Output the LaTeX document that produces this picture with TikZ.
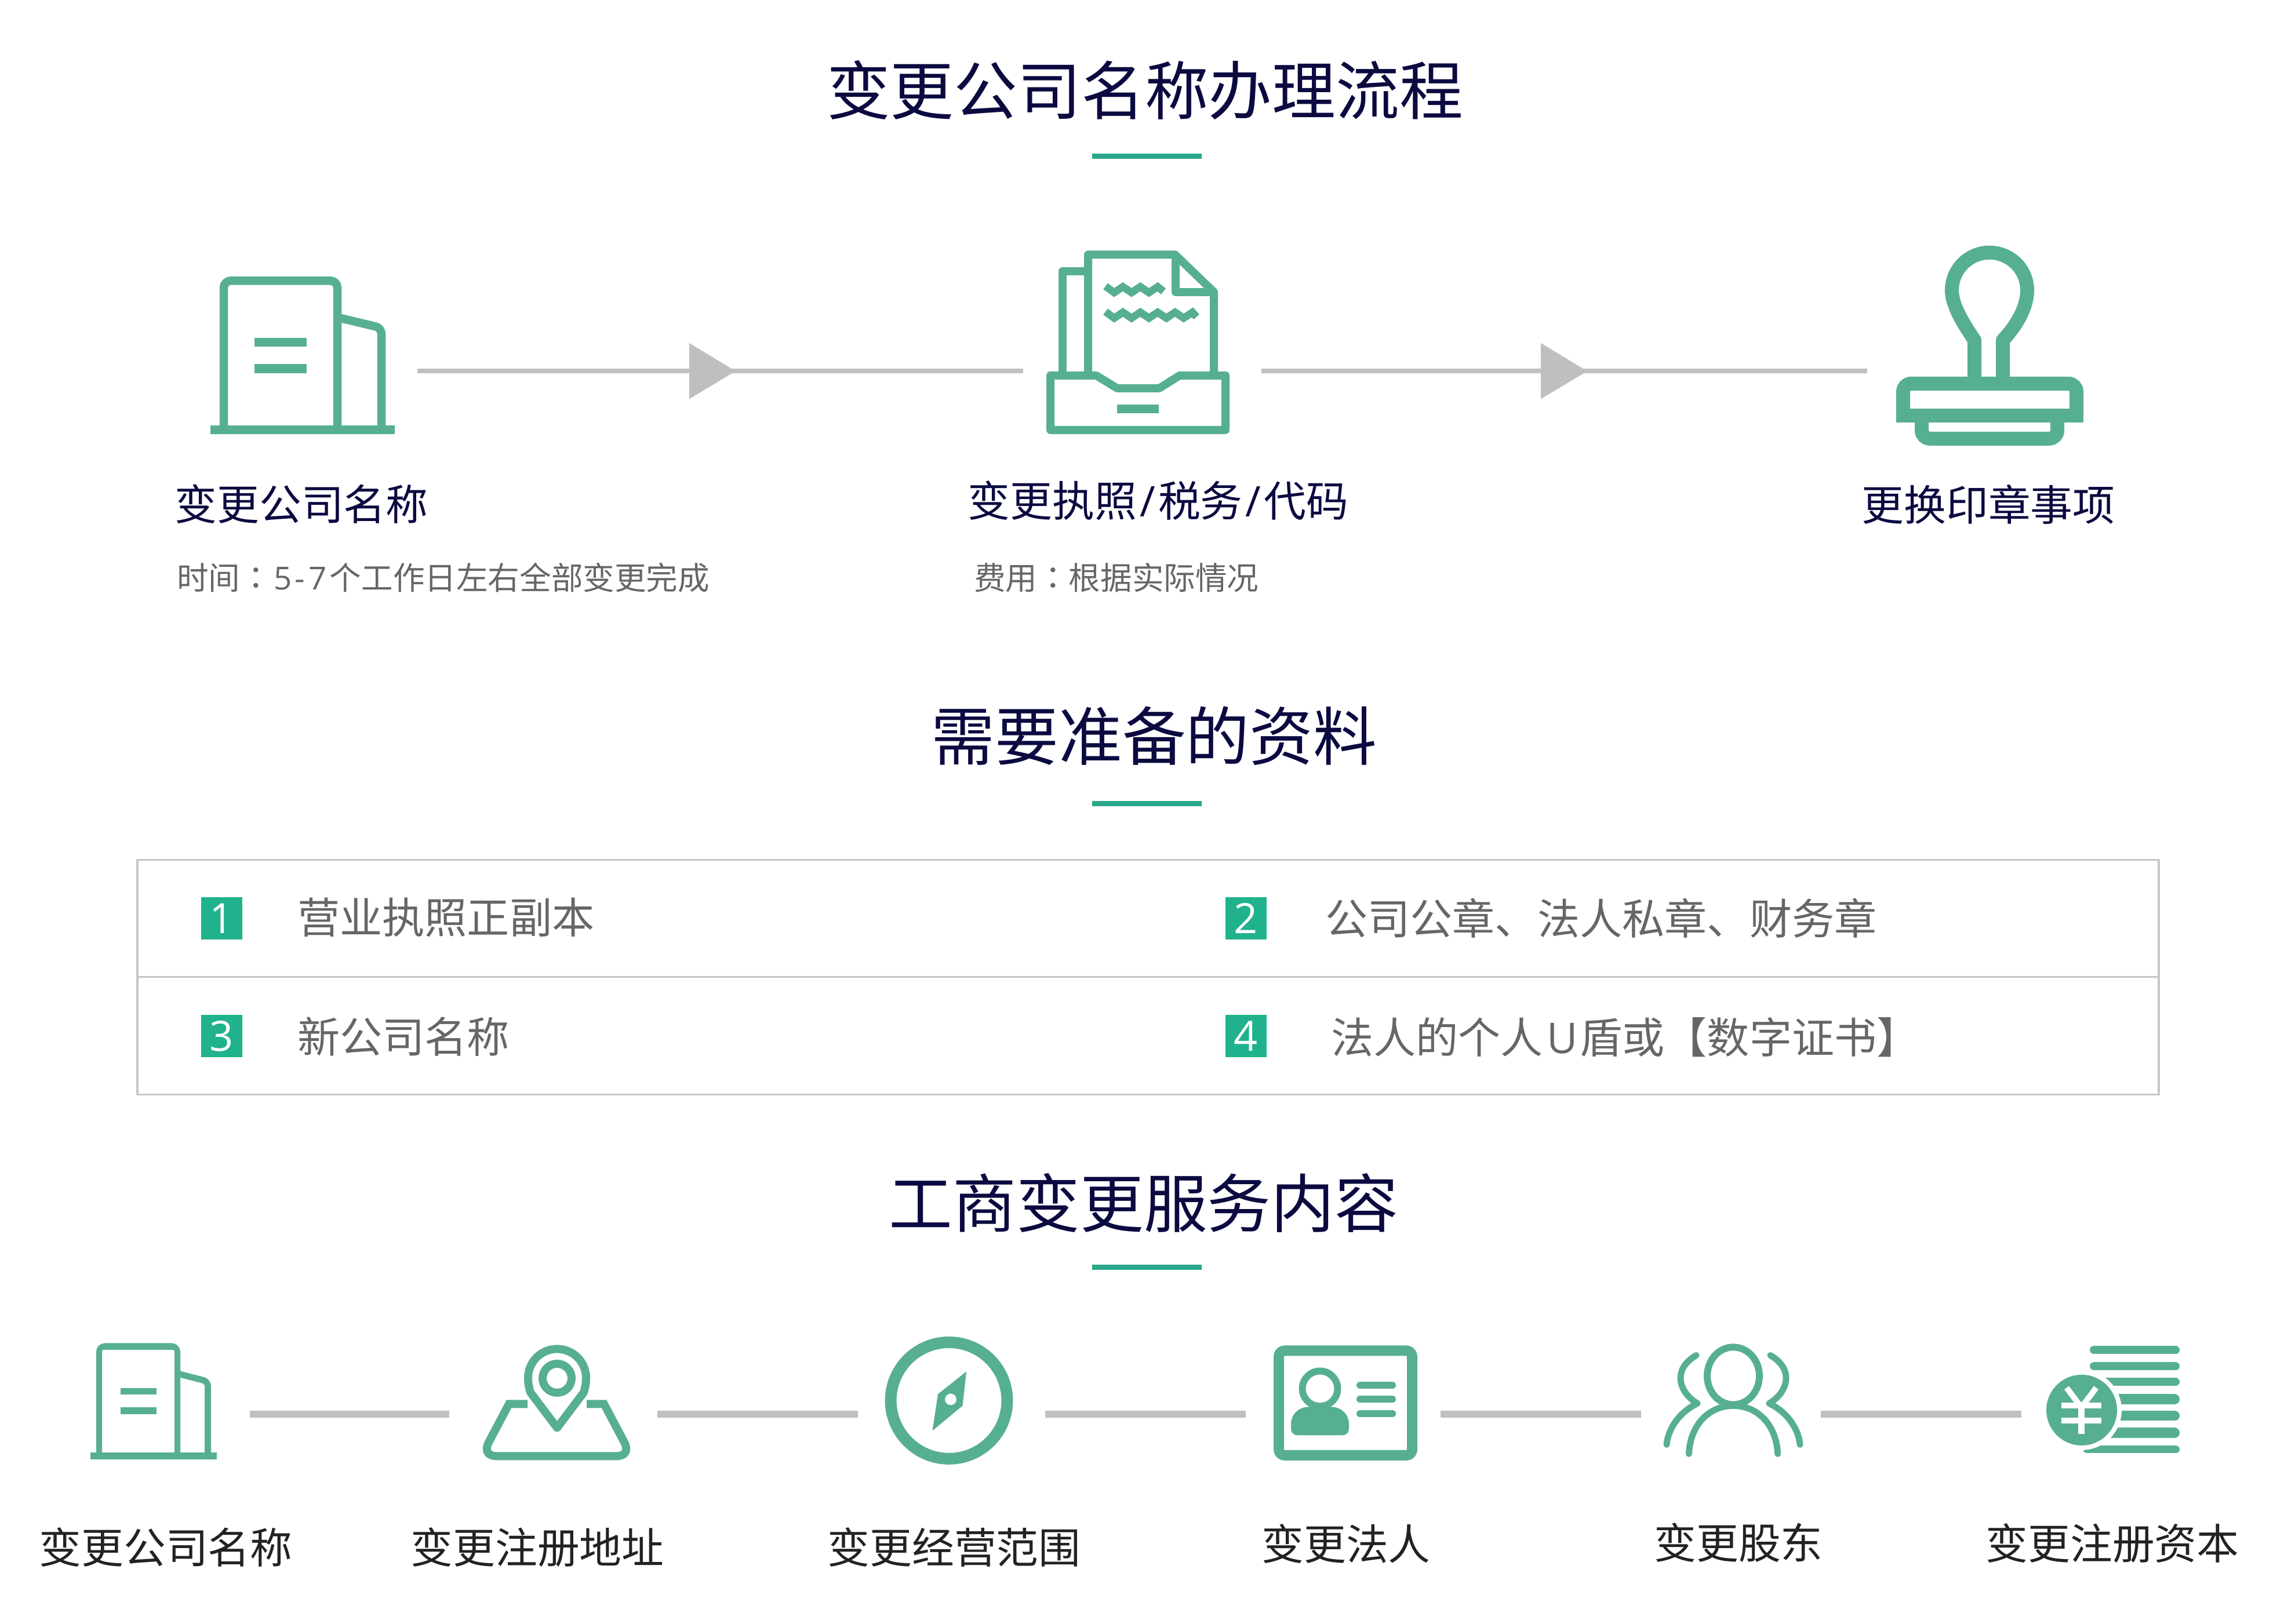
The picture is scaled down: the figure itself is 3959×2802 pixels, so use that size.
\documentclass[tikz,border=0pt]{standalone}
\usepackage{fontspec}
\setmainfont{Noto Sans CJK SC}
\newfontfamily\lat{Open Sans}
\newfontfamily\tcf{Noto Sans CJK TC}
\definecolor{navy}{HTML}{0B0A40}
\definecolor{igreen}{HTML}{57AF91}
\definecolor{lgreen}{HTML}{2AA88A}
\definecolor{bgreen}{HTML}{20B28C}
\definecolor{arrowgrey}{HTML}{BFBFBF}
\definecolor{boxgrey}{HTML}{C6C6C6}
\definecolor{subgrey}{HTML}{666666}
\definecolor{lab}{HTML}{222222}
\tikzset{
  txt/.style={inner sep=0pt,outer sep=0pt,anchor=base},
  titletxt/.style={txt,text=navy,font=\fontsize{27.45}{30}\selectfont},
  steptxt/.style={txt,text=navy,font=\fontsize{18.2}{22}\selectfont},
  subtxt/.style={txt,anchor=base west,text=subgrey,font=\fontsize{13.65}{16}\selectfont},
  listtxt/.style={txt,anchor=base west,text=subgrey,font=\fontsize{18.3}{22}\selectfont},
  labtxt/.style={txt,text=lab,font=\fontsize{18.2}{22}\selectfont},
  badge/.style={inner sep=0pt,fill=bgreen,text=white,minimum width=17.75pt,minimum height=18.25pt,font=\lat\fontsize{18}{20}\selectfont},
  ic/.style={draw=igreen,line width=#1*0.25pt,line join=round},
  icm/.style={draw=igreen,line width=#1*0.25pt,line join=miter},
  uline/.style={draw=lgreen,line width=2.1pt},
  conn/.style={draw=arrowgrey,line width=2pt},
  conn2/.style={draw=arrowgrey,line width=2.9pt},
  boxline/.style={draw=boxgrey,line width=0.8pt},
}
\begin{document}
\begin{tikzpicture}[x=0.25pt,y=-0.25pt]
\useasboundingbox (0,0) rectangle (3959,2802);
\begin{scope}[yshift=-0.6pt]
% titles
\node[titletxt] (t1) at (1975,195.5) {变更公司名称办理流程};
\node[titletxt] (t2) at (1991,1309) {需要准备的资料};
\node[titletxt] (t3) at (1973,2115.5) {工商变更服务内容};
\coordinate (u1a) at (1884,267); \coordinate (u1b) at (2073,267);
\coordinate (u2a) at (1884,1384); \coordinate (u2b) at (2073,1384);
\coordinate (u3a) at (1884,2184); \coordinate (u3b) at (2073,2184);
\draw[uline] (u1a) -- (u1b);
\draw[uline] (u2a) -- (u2b);
\draw[uline] (u3a) -- (u3b);
% top connectors
\coordinate (c1a) at (720,638); \coordinate (c1b) at (1765,638);
\coordinate (c2a) at (2176,638); \coordinate (c2b) at (3221,638);
\draw[conn] (c1a) -- (c1b);
\draw[conn] (c2a) -- (c2b);
\fill[arrowgrey] (1189,589.5) -- (1269,638) -- (1189,686) -- cycle;
\fill[arrowgrey] (2658,589.5) -- (2738,638) -- (2658,686) -- cycle;
% top row icons
\begin{scope}[yshift=0.4pt]
% icon 1 large building
\draw[ic=14.5,rounded corners=3pt] (386,735) -- (386,483.5) -- (582,483.5) -- (582,735);
\draw[ic=14.5,rounded corners=2.5pt] (585,547.5) -- (658,565) -- (658,735);
\fill[igreen] (363,733) rectangle (681,748);
\fill[igreen] (439,582) rectangle (529,597);
\fill[igreen] (439,627) rectangle (529,643);
% icon 2 document tray
\draw[ic=14] (1877,645) -- (1877,438.5) -- (2027,438.5) -- (2094,503) -- (2094,645);
\draw[ic=14] (2028,438.5) -- (2028,503) -- (2094,503);
\draw[ic=14] (1877,467) -- (1833,467) -- (1833,645);
\draw[ic=14] (1812,647) -- (1812,741) -- (2114,741) -- (2114,647) -- (2035,647) -- (2000,669) -- (1927,669) -- (1891,647) -- cycle;
\fill[igreen] (1927,697.5) rectangle (1999,712);
\draw[draw=igreen,line width=3.25pt,line join=miter] (1907,493) -- (1922,504) -- (1937,494) -- (1952,504) -- (1967,494) -- (1982,504) -- (1997,494) -- (2007,502);
\draw[draw=igreen,line width=3.25pt,line join=miter] (1907,537) -- (1922,548) -- (1937,538) -- (1952,548) -- (1967,538) -- (1982,548) -- (1997,538) -- (2012,548) -- (2027,538) -- (2042,548) -- (2057,538) -- (2064,546);
% icon 3 stamp
\draw[ic=24] (3406,652) -- (3406,586) .. controls (3385,555) and (3367,525) .. (3367,500) arc[start angle=180,end angle=0,radius=16.25pt] .. controls (3497,530) and (3478,562) .. (3455,586) -- (3455,652);
\draw[icm=24,rounded corners=3.5pt] (3283,716) -- (3283,661) -- (3582,661) -- (3582,716);
\draw[icm=24] (3271,716) -- (3594,716);
\draw[icm=24,rounded corners=3.5pt] (3315,725) -- (3315,756) -- (3549,756) -- (3549,725);
\end{scope}
% top labels
\node[steptxt] (l1) at (520,895) {变更公司名称};
\node[steptxt] (l2) at (1998,889) {变更执照\hspace{1.3pt}{\lat/}\hspace{1.3pt}税务\hspace{1.3pt}{\lat/}\hspace{1.3pt}代码};
\node[steptxt] (l3) at (3430,896) {更换印章事项};
\node[subtxt] (s1) at (305,1015) {时间{\tcf ：}\hspace{0.8pt}{\lat 5\hspace{1.4pt}-\hspace{1.4pt}7}\hspace{1.4pt}个工作日左右全部变更完成};
\node[subtxt] (s2) at (1680,1015) {费用{\tcf ：}根据实际情况};
% table
\coordinate (bx1) at (237,1481); \coordinate (bx2) at (3724,1886);
\coordinate (bm1) at (237,1683); \coordinate (bm2) at (3724,1683);
\draw[boxline] (bx1) rectangle (bx2);
\draw[boxline] (bm1) -- (bm2);
\node[badge] (b1) at (382.5,1582.5) {1};
\node[badge] (b2) at (2149,1582.5) {2};
\node[badge] (b3) at (382.5,1785) {3};
\node[badge] (b4) at (2149,1785) {4};
\node[listtxt] (i1) at (513,1608) {营业执照正副本};
\node[listtxt] (i2) at (2286,1610) {公司公章、法人私章、财务章};
\node[listtxt] (i3) at (513,1814) {新公司名称};
\node[listtxt] (i4) at (2296,1815) {法人的个人\hspace{1.5pt}{\lat U}\hspace{1pt}盾或【数字证书】};
% bottom connectors
\coordinate (d1a) at (431,2437.5); \coordinate (d1b) at (775,2437.5);
\coordinate (d2a) at (1134,2437.5); \coordinate (d2b) at (1480,2437.5);
\coordinate (d3a) at (1803,2437.5); \coordinate (d3b) at (2149,2437.5);
\coordinate (d4a) at (2485,2437.5); \coordinate (d4b) at (2831,2437.5);
\coordinate (d5a) at (3141,2437.5); \coordinate (d5b) at (3487,2437.5);
\draw[conn2] (d1a) -- (d1b);
\draw[conn2] (d2a) -- (d2b);
\draw[conn2] (d3a) -- (d3b);
\draw[conn2] (d4a) -- (d4b);
\draw[conn2] (d5a) -- (d5b);
% small building
\draw[ic=10,rounded corners=2.5pt] (171,2510) -- (171,2320) -- (306,2320) -- (306,2510);
\fill[igreen] (176,2320) rectangle (301,2327);
\draw[ic=11,rounded corners=2pt] (308,2368) -- (358.5,2381) -- (358.5,2510);
\fill[igreen] (155.5,2504) rectangle (374,2516);
\fill[igreen] (208,2393) rectangle (270,2404);
\fill[igreen] (208,2426) rectangle (270,2438);
% pin on map
\draw[ic=14] (961,2461) -- (915,2400) .. controls (912,2390) and (911,2383) .. (911,2375) arc[start angle=180,end angle=0,radius=12.5pt] .. controls (1011,2383) and (1010,2390) .. (1007,2400) -- cycle;
\draw[ic=14] (961,2375.5) circle[radius=6.25pt];
\draw[icm=14] (910,2420) -- (878,2420) -- (842,2488) .. controls (836,2503) and (843,2510) .. (858,2510) -- (1062,2510) .. controls (1077,2510) and (1084,2503) .. (1078,2488) -- (1042,2420) -- (1012,2420);
% compass
\draw[ic=20] (1637,2414) circle[radius=25.1pt];
\fill[igreen,even odd rule] (1667,2364) -- (1618,2403) -- (1608.5,2466) -- (1660.5,2423) -- cycle (1640,2412) circle[radius=2.5pt];
% id card
\draw[ic=18,rounded corners=2.5pt] (2206,2328) rectangle (2436,2508.5);
\draw[ic=12] (2277,2393.5) circle[radius=7.6pt];
\fill[igreen] (2240,2474) .. controls (2231,2474) and (2227,2470) .. (2227,2460) -- (2227,2455) .. controls (2227,2438) and (2240,2425) .. (2258,2425) -- (2296,2425) .. controls (2314,2425) and (2327,2438) .. (2327,2455) -- (2327,2460) .. controls (2327,2470) and (2323,2474) .. (2314,2474) -- cycle;
\draw[ic=12,line cap=round] (2346,2387.5) -- (2402,2387.5);
\draw[ic=12,line cap=round] (2346,2412) -- (2402,2412);
\draw[ic=12,line cap=round] (2346,2437) -- (2402,2437);
% people
\draw[ic=12] (2990,2371.5) ellipse[x radius=11.25pt,y radius=12.4pt];
\draw[ic=11,line cap=round] (2913.5,2506) .. controls (2915,2460) and (2945,2423) .. (2990,2423) .. controls (3035,2423) and (3065,2460) .. (3066.5,2506);
\draw[ic=11,line cap=round] (2926,2336) .. controls (2906,2348) and (2899,2362) .. (2899,2375) .. controls (2899,2392) and (2910,2408) .. (2928,2419) .. controls (2895,2435) and (2877,2465) .. (2875,2490);
\draw[ic=11,line cap=round] (3054,2336) .. controls (3074,2348) and (3081,2362) .. (3081,2375) .. controls (3081,2392) and (3070,2408) .. (3052,2419) .. controls (3085,2435) and (3103,2465) .. (3105,2490);
% coins
\draw[ic=14,line cap=round] (3612,2327) -- (3753,2327);
\draw[ic=14,line cap=round] (3612,2355) -- (3753,2355);
\draw[ic=14,line cap=round] (3620,2382) -- (3753,2382);
\draw[ic=18,line cap=round] (3620,2412) -- (3751,2412);
\draw[ic=17,line cap=round] (3620,2440.5) -- (3751.5,2440.5);
\draw[ic=18,line cap=round] (3620,2470) -- (3751,2470);
\draw[ic=13,line cap=round] (3600,2498.5) -- (3753.5,2498.5);
\fill[white] (3591,2430.5) circle[radius=17.25pt];
\fill[igreen] (3591,2430.5) circle[radius=15.25pt];
\draw[white,line width=2.5pt] (3565,2392) -- (3590.5,2426) -- (3616,2392);
\draw[white,line width=2.75pt] (3590.5,2424) -- (3590.5,2472);
\fill[white] (3556,2418) rectangle (3625,2428);
\fill[white] (3556,2444) rectangle (3625,2454);
% bottom labels
\node[labtxt] (n1) at (286,2695) {变更公司名称};
\node[labtxt] (n2) at (927,2695) {变更注册地址};
\node[labtxt] (n3) at (1646,2695) {变更经营范围};
\node[labtxt] (n4) at (2322,2689) {变更法人};
\node[labtxt] (n5) at (2999,2687) {变更股东};
\node[labtxt] (n6) at (3644,2688) {变更注册资本};
\end{scope}
\end{tikzpicture}
\end{document}
